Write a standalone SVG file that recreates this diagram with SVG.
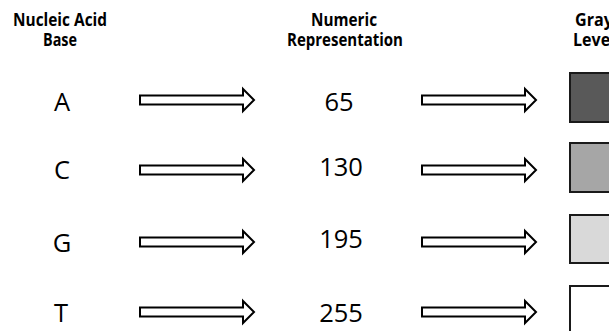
<svg xmlns="http://www.w3.org/2000/svg" xmlns:xlink="http://www.w3.org/1999/xlink" width="609" height="331" viewBox="0 0 609 331">
  <style>
    .hdr { font-family: "Open Sans", "Liberation Sans", sans-serif; font-weight: bold; font-size: 18px; fill: #000; text-anchor: middle; }
    .val { font-family: "Open Sans", "Liberation Sans", sans-serif; font-size: 25.5px; fill: #000; text-anchor: middle; }
    .arrow { fill: #fff; stroke: #000; stroke-width: 2; stroke-linejoin: miter; }
    .swatch { stroke: #1a1a1a; stroke-width: 2; }
  </style>
  <defs>
    <!-- block arrow, tip at the origin -->
    <path id="blockArrow" class="arrow" d="M -114 -4.5 H -11 V -11 L 0 0 L -11 11 V 4.5 H -114 Z"/>
  </defs>
  <rect width="609" height="331" fill="#fff"/>

  <!-- column headings -->
  <g id="head-base">
    <text class="hdr" x="60" y="26" textLength="94" lengthAdjust="spacingAndGlyphs">Nucleic Acid</text>
    <text class="hdr" x="60" y="46" textLength="34" lengthAdjust="spacingAndGlyphs">Base</text>
  </g>
  <g id="head-numeric">
    <text class="hdr" x="344" y="26" textLength="66" lengthAdjust="spacingAndGlyphs">Numeric</text>
    <text class="hdr" x="345" y="46" textLength="116" lengthAdjust="spacingAndGlyphs">Representation</text>
  </g>
  <g id="head-gray">
    <text class="hdr" x="594" y="26" textLength="38" lengthAdjust="spacingAndGlyphs">Gray</text>
    <text class="hdr" x="594" y="46" textLength="42" lengthAdjust="spacingAndGlyphs">Level</text>
  </g>

  <!-- bases -->
  <g id="base-A"><text class="val" x="62" y="111">A</text></g>
  <g id="base-C"><text class="val" x="62" y="179">C</text></g>
  <g id="base-G"><text class="val" x="62" y="252">G</text></g>
  <g id="base-T"><text class="val" x="61" y="322">T</text></g>

  <!-- numeric values -->
  <g id="num-65"><text class="val" x="339" y="111">65</text></g>
  <g id="num-130"><text class="val" x="341" y="176">130</text></g>
  <g id="num-195"><text class="val" x="341" y="248">195</text></g>
  <g id="num-255"><text class="val" x="341" y="322">255</text></g>

  <!-- gray level swatches -->
  <g id="gray-65"><rect class="swatch" x="570" y="73" width="50" height="49" fill="#595959"/></g>
  <g id="gray-130"><rect class="swatch" x="570" y="143" width="50" height="49" fill="#a6a6a6"/></g>
  <g id="gray-195"><rect class="swatch" x="570" y="215" width="50" height="48" fill="#d9d9d9"/></g>
  <g id="gray-255"><rect class="swatch" x="570" y="286" width="50" height="49" fill="#ffffff"/></g>

  <!-- connectors -->
  <g id="connectors">
    <use xlink:href="#blockArrow" href="#blockArrow" x="254" y="100"/>
    <use xlink:href="#blockArrow" href="#blockArrow" x="254" y="170"/>
    <use xlink:href="#blockArrow" href="#blockArrow" x="254" y="242"/>
    <use xlink:href="#blockArrow" href="#blockArrow" x="254" y="312"/>
    <use xlink:href="#blockArrow" href="#blockArrow" x="536" y="100"/>
    <use xlink:href="#blockArrow" href="#blockArrow" x="536" y="170"/>
    <use xlink:href="#blockArrow" href="#blockArrow" x="536" y="242"/>
    <use xlink:href="#blockArrow" href="#blockArrow" x="536" y="312"/>
  </g>
</svg>
